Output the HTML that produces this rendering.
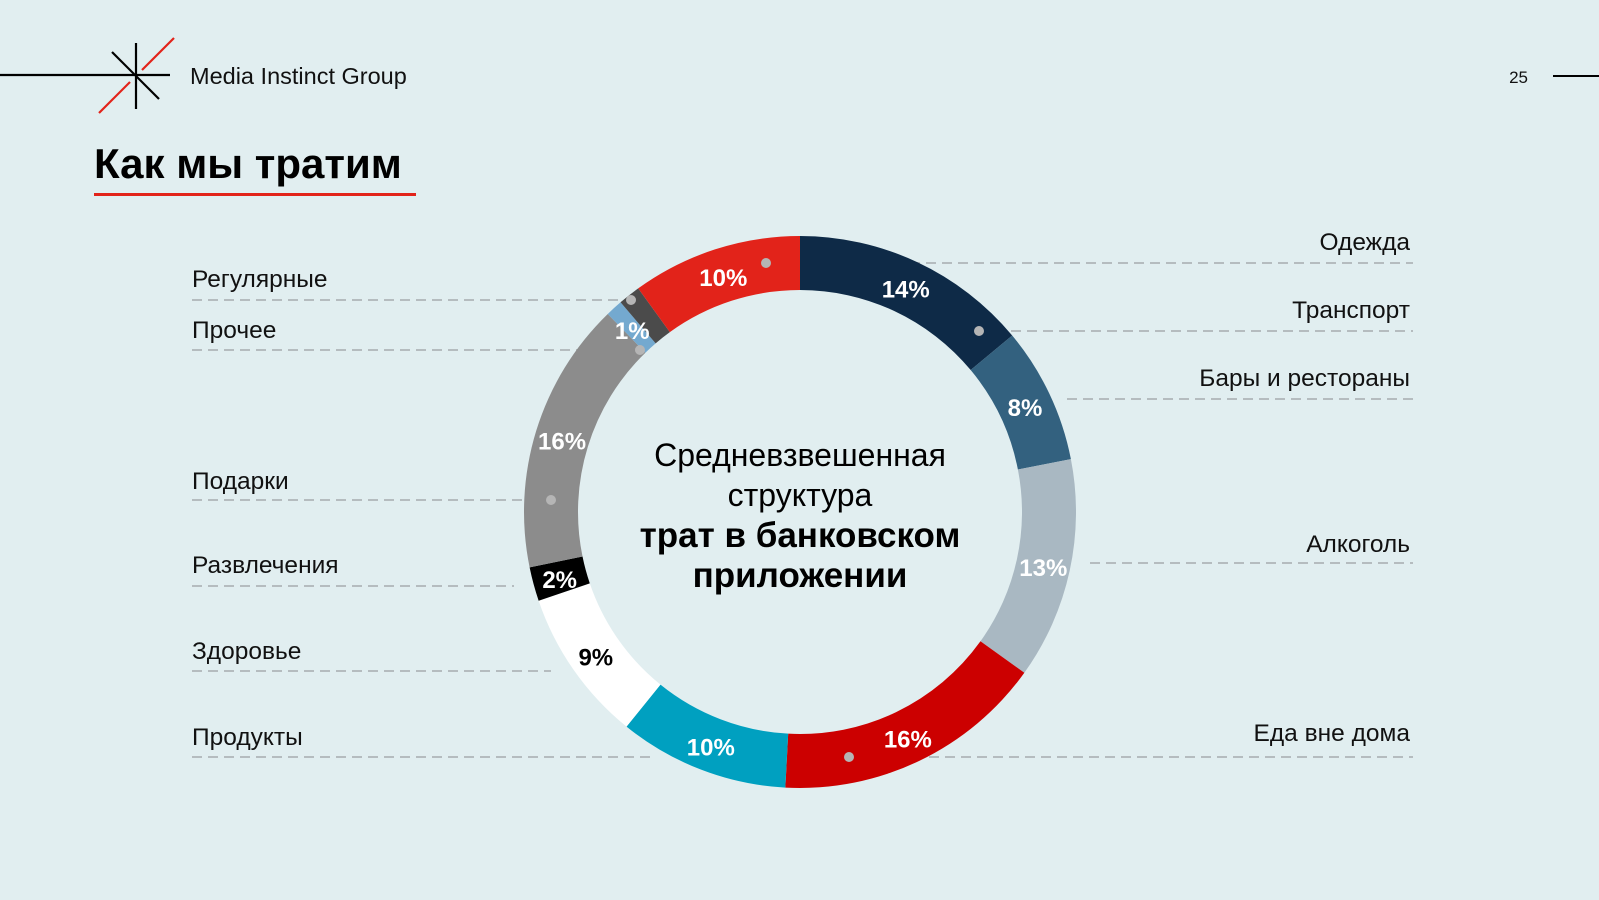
<!DOCTYPE html>
<html><head><meta charset="utf-8">
<style>
html,body{margin:0;padding:0;}
body{width:1599px;height:900px;background:#e1eef0;position:relative;overflow:hidden;font-family:"Liberation Sans","Noto Sans CJK SC",sans-serif;}
svg{position:absolute;left:0;top:0;}
</style></head>
<body>
<svg width="1599" height="900">
  <g>
    <line x1="0" y1="75" x2="170" y2="75" stroke="#000" stroke-width="2.2"/>
    <line x1="136" y1="43" x2="136" y2="109" stroke="#000" stroke-width="2.2"/>
    <line x1="112" y1="52" x2="159" y2="99" stroke="#000" stroke-width="2.2"/>
    <line x1="99" y1="113" x2="130" y2="82" stroke="#e2231a" stroke-width="2.2"/>
    <line x1="142" y1="70" x2="174" y2="38" stroke="#e2231a" stroke-width="2.2"/>
    <text x="190" y="84" font-size="23.5" fill="#111">Media Instinct Group</text>
  </g>
  <text x="1528" y="83" font-size="17" fill="#111" text-anchor="end">25</text>
  <line x1="1553" y1="76" x2="1599" y2="76" stroke="#000" stroke-width="2"/>
  <text x="94" y="178" font-size="42" font-weight="bold" fill="#000">Как мы тратим</text>
  <rect x="94" y="193" width="322" height="3" fill="#e2231a"/>
  <g id="chart"></g>
  <g font-size="32" text-anchor="middle" fill="#000">
    <text x="800" y="466">Средневзвешенная</text>
    <text x="800" y="506">структура</text>
    <text x="800" y="547" font-weight="bold" font-size="35">трат в банковском</text>
    <text x="800" y="587" font-weight="bold" font-size="35">приложении</text>
  </g>
</svg>
<script>
const categories = ["Транспорт","Бары и рестораны","Алкоголь","Еда вне дома","Продукты","Здоровье","Развлечения","Подарки","Прочее","Регулярные","Одежда"];
const values = [14,8,13,16,10,9,2,16,1,1.3,10];
const valueLabels = ["14%","8%","13%","16%","10%","9%","2%","16%","1%","","10%"];
const colors = ["#0e2a47","#33617f","#a9b8c2","#cc0000","#00a0c0","#ffffff","#000000","#8c8c8c","#74a9cf","#4b4b4b","#e2231a"];
const textColors = ["#fff","#fff","#fff","#fff","#fff","#000","#fff","#fff","#fff","#fff","#fff"];
// leader layout: [label x, label y, line y, line x1, line x2, dot x, anchor]
const leaders = {
 "Одежда":[1410,250,263,766,1413,766,"end"],
 "Транспорт":[1410,318,331,979,1413,979,"end"],
 "Бары и рестораны":[1410,386,399,1067,1413,null,"end"],
 "Алкоголь":[1410,552,563,1090,1413,null,"end"],
 "Еда вне дома":[1410,741,757,849,1413,849,"end"],
 "Регулярные":[192,287,300,192,631,631,"start"],
 "Прочее":[192,338,350,192,640,640,"start"],
 "Подарки":[192,489,500,192,551,551,"start"],
 "Развлечения":[192,573,586,192,514,null,"start"],
 "Здоровье":[192,659,671,192,551,null,"start"],
 "Продукты":[192,745,757,192,653,null,"start"]
};
const NS="http://www.w3.org/2000/svg";
const g=document.getElementById('chart');
const cx=800, cy=512, R=276, r=222, rl=249;
const total=values.reduce((a,b)=>a+b,0);
function pt(a,rad){return [cx+rad*Math.sin(a), cy-rad*Math.cos(a)];}
for(const name of categories){
  const L=leaders[name];
  const ln=document.createElementNS(NS,'line');
  ln.setAttribute('x1',L[3]);ln.setAttribute('x2',L[4]);ln.setAttribute('y1',L[2]);ln.setAttribute('y2',L[2]);
  ln.setAttribute('stroke','#b5bcbf');ln.setAttribute('stroke-width','2');ln.setAttribute('stroke-dasharray','10 6');
  
  
  g.appendChild(ln);
  const t=document.createElementNS(NS,'text');
  t.setAttribute('x',L[0]);t.setAttribute('y',L[1]);t.setAttribute('font-size','24.5');t.setAttribute('fill','#111');
  t.setAttribute('text-anchor',L[6]);t.textContent=name;
  
  
  g.appendChild(t);
}
let acc=0;
const segs=[];
categories.forEach((c,i)=>{
  const a0=acc/total*2*Math.PI; acc+=values[i]; const a1=acc/total*2*Math.PI;
  const [x0,y0]=pt(a0,R),[x1,y1]=pt(a1,R),[x2,y2]=pt(a1,r),[x3,y3]=pt(a0,r);
  const lg=(a1-a0)>Math.PI?1:0;
  const p=document.createElementNS(NS,'path');
  p.setAttribute('d',`M${x0},${y0}A${R},${R} 0 ${lg} 1 ${x1},${y1}L${x2},${y2}A${r},${r} 0 ${lg} 0 ${x3},${y3}Z`);
  p.setAttribute('fill',colors[i]);
  
  
  g.appendChild(p);
  segs.push([a0,a1]);
});
categories.forEach((c,i)=>{
  if(!valueLabels[i])return;
  const am=(segs[i][0]+segs[i][1])/2;
  const [x,y]=pt(am,rl);
  const t=document.createElementNS(NS,'text');
  t.setAttribute('x',x);t.setAttribute('y',y+11);t.setAttribute('text-anchor','middle');
  t.setAttribute('font-size','24');t.setAttribute('font-weight','bold');t.setAttribute('fill',textColors[i]);
  t.textContent=valueLabels[i];
  
  
  g.appendChild(t);
});
for(const name of categories){
  const L=leaders[name]; if(L[5]==null)continue;
  const d=document.createElementNS(NS,'circle');
  d.setAttribute('cx',L[5]);d.setAttribute('cy',L[2]);d.setAttribute('r','5');d.setAttribute('fill','#b5b5b5');
  
  
  g.appendChild(d);
}
</script>
</body></html>
